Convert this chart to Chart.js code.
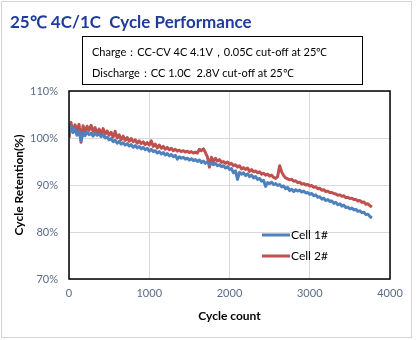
<!DOCTYPE html>
<html>
<head>
	<title>25℃ 4C/1C Cycle Performance</title>
	<script src="https://cdn.jsdelivr.net/npm/chart.js"></script>
	<style>
		body { margin: 0; background: #fff; }
		#wrap { position: relative; width: 416px; height: 340px; }
	</style>
</head>
<body>
	<div id="wrap">
		<canvas id="myChart" width="416" height="340"></canvas>
	</div>
</body>

<script>
    // retention (%), one reading every 25 cycles from cycle 0
    const cycleStep = 25;
    const cell1 = [
      100.8, 102.6, 101.2, 101.9, 100.6, 101.5, 99.4, 101.2, 100.5, 101.3, 100.7, 101.0, 100.4, 101.1, 100.6, 100.9, 100.3, 100.6, 100.0, 100.2,
      99.6, 99.9, 99.2, 99.5, 98.9, 99.3, 98.7, 99.0, 98.5, 98.8, 98.3, 98.6, 98.0, 98.4, 97.9, 98.2, 97.7, 98.0, 97.5, 97.8,
      97.2, 97.6, 97.1, 97.3, 96.8, 97.1, 96.6, 96.9, 96.4, 96.7, 96.2, 96.5, 96.0, 96.3, 95.5, 96.0, 95.7, 95.9, 95.5, 95.7,
      95.3, 95.6, 95.2, 95.4, 95.0, 95.3, 94.8, 95.1, 94.6, 94.9, 94.4, 94.7, 94.3, 94.6, 94.1, 94.3, 93.9, 94.1, 93.6, 93.9,
      93.3, 93.5, 92.6, 93.0, 91.2, 92.7, 92.3, 92.6, 92.0, 92.4, 91.8, 92.1, 91.5, 91.8, 91.2, 91.4, 90.8, 91.0, 89.7, 90.5,
      90.3, 90.6, 90.1, 90.3, 89.9, 90.1, 89.6, 89.8, 89.2, 89.5, 88.8, 89.1, 88.6, 89.0, 88.7, 88.9, 88.5, 88.7, 88.3, 88.4,
      88.0, 88.2, 87.7, 87.9, 87.4, 87.5, 87.0, 87.2, 86.7, 86.9, 86.5, 86.6, 86.1, 86.3, 85.8, 86.0, 85.5, 85.7, 85.2, 85.3,
      84.9, 85.1, 84.7, 84.8, 84.4, 84.5, 84.1, 84.2, 83.7, 83.8, 83.3, 83.0];
    const cell2 = [
      100.0, 103.3, 101.2, 102.8, 101.5, 102.9, 99.1, 102.6, 101.3, 102.5, 101.6, 102.7, 101.4, 102.2, 101.0, 101.9, 100.7, 102.0, 100.8, 101.5,
      100.6, 101.2, 100.2, 101.4, 100.0, 100.7, 99.6, 100.4, 99.5, 100.1, 99.3, 99.9, 99.2, 99.6, 98.9, 99.4, 98.8, 99.2, 98.6, 99.0,
      98.5, 99.4, 98.2, 98.7, 97.9, 98.5, 97.8, 98.2, 97.6, 98.0, 97.5, 97.8, 97.3, 97.6, 97.2, 97.4, 97.1, 97.3, 97.0, 97.2,
      96.9, 97.1, 96.8, 97.0, 96.8, 97.6, 97.3, 97.7, 96.9, 96.0, 93.8, 95.9, 95.0, 95.7, 95.1, 95.4, 94.8, 95.0, 94.6, 94.9,
      94.4, 94.6, 94.1, 94.3, 93.8, 94.1, 93.4, 93.7, 93.3, 93.6, 92.9, 93.3, 92.8, 93.0, 92.6, 92.8, 92.3, 92.5, 92.1, 92.3,
      91.9, 92.1, 91.6, 91.4, 91.8, 94.1, 92.8, 92.0, 91.5, 91.3, 91.1, 91.2, 90.8, 90.9, 90.5, 90.6, 90.2, 90.3, 90.0, 90.1,
      89.8, 89.9, 89.5, 89.6, 89.2, 89.3, 88.9, 89.0, 88.6, 88.7, 88.4, 88.4, 88.2, 88.1, 87.8, 87.9, 87.6, 87.7, 87.3, 87.4,
      87.1, 87.2, 86.9, 86.9, 86.6, 86.7, 86.3, 86.4, 85.9, 86.0, 85.6, 85.3];

    const seriesNames = ['Cell 1#', 'Cell 2#'];
    const seriesColors = ['#4f81bd', '#c0504d'];
    const yTicks = [70, 80, 90, 100, 110];
    const xTicks = [0, 1000, 2000, 3000, 4000];

    const titleText = '25℃ 4C/1C  Cycle Performance';
    const noteLines = ['Charge：CC-CV 4C 4.1V，0.05C cut-off at 25℃', 'Discharge：CC 1.0C  2.8V cut-off at 25℃'];

    function toPoints(ys) {
      return ys.map((y, i) => ({x: i * cycleStep, y: y}));
    }

    // title, condition box, frame and in-plot legend
    const extras = {
      id: 'extras',
      afterDraw(chart) {
        const c = chart.ctx;
        const a = chart.chartArea;
        c.save();
        c.strokeStyle = '#d4d4d4';
        c.lineWidth = 1;
        c.strokeRect(1.5, 1.5, 410, 336);

        c.fillStyle = '#1f3c9c';
        c.font = 'bold 17px Lato';
        c.textBaseline = 'alphabetic';
        c.fillText(titleText, 10, 28);

        c.strokeStyle = '#000';
        c.strokeRect(82.5, 36.5, 280, 48);
        c.fillStyle = '#000';
        c.font = '11px Lato';
        c.fillText(noteLines[0], 92, 56);
        c.fillText(noteLines[1], 92, 77);

        c.lineWidth = 1.5;
        c.strokeRect(a.left, a.top, a.right - a.left, a.bottom - a.top);

        c.font = '12px Lato';
        c.textBaseline = 'middle';
        seriesNames.forEach((name, i) => {
          const y = 235 + i * 21;
          c.strokeStyle = seriesColors[i];
          c.lineWidth = 3;
          c.beginPath();
          c.moveTo(262, y);
          c.lineTo(290, y);
          c.stroke();
          c.fillStyle = '#000';
          c.fillText(name, 291, y);
        });
        c.restore();
      }
    };

    const ctx = document.getElementById('myChart');
    new Chart(ctx, {
      type: 'line',
      data: {
        datasets: [{
          label: seriesNames[0],
          data: toPoints(cell1),
          borderColor: seriesColors[0],
          borderWidth: 3,
          borderJoinStyle: 'round',
          pointRadius: 0,
          tension: 0
        }, {
          label: seriesNames[1],
          data: toPoints(cell2),
          borderColor: seriesColors[1],
          borderWidth: 3,
          borderJoinStyle: 'round',
          pointRadius: 0,
          tension: 0
        }]
      },
      options: {
        responsive: false,
        animation: false,
        layout: { padding: { left: 0, right: 26, top: 91, bottom: 13 } },
        plugins: { legend: { display: false }, tooltip: { enabled: false } },
        scales: {
          x: {
            type: 'linear',
            min: 0, max: 4000,
            afterBuildTicks: s => { s.ticks = xTicks.map(v => ({value: v})); },
            afterFit: s => { s.height = 48; },
            grid: { color: '#d9d9d9', drawTicks: false },
            border: { display: false },
            ticks: { color: '#5a6b8a', font: { family: 'Lato', size: 11 }, padding: 8, maxRotation: 0, callback: v => String(v) },
            title: { display: true, text: 'Cycle count', color: '#000', font: { family: 'Lato', size: 12, weight: 'bold' }, padding: { top: 4 } }
          },
          y: {
            min: 70, max: 110,
            afterBuildTicks: s => { s.ticks = yTicks.map(v => ({value: v})); },
            afterFit: s => { s.width = 69; },
            grid: { color: '#d9d9d9', drawTicks: false },
            border: { display: false },
            ticks: { color: '#5a6b8a', font: { family: 'Lato', size: 11 }, padding: 11, callback: v => v + '%' },
            title: { display: true, text: 'Cycle Retention(%)', color: '#000', font: { family: 'Lato', size: 12, weight: 'bold' }, padding: { top: 12 } }
          }
        }
      },
      plugins: [extras]
    });
</script>
</html>
